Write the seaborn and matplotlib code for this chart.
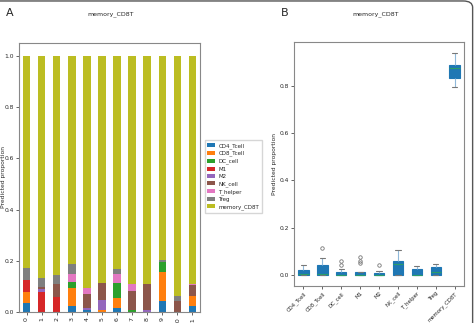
import matplotlib
matplotlib.use("Agg")
import matplotlib.pyplot as plt
from matplotlib.patches import FancyBboxPatch
import seaborn as sns
import pandas as pd

# sample ids on the x axis of panel A
samples = [str(i) for i in range(12)]
cell_types = ["CD4_Tcell", "CD8_Tcell", "DC_cell", "M1", "M2",
              "NK_cell", "T_helper", "Treg", "memory_CD8T"]

# predicted proportions per sample
cd4_tcell = [0.035, 0.0, 0.0, 0.022, 0.006, 0.0, 0.016, 0.0, 0.0, 0.042, 0.0, 0.022]
cd8_tcell = [0.043, 0.0, 0.0, 0.072, 0.0, 0.008, 0.039, 0.0, 0.0, 0.115, 0.0, 0.040]
dc_cell = [0.0, 0.0, 0.0, 0.024, 0.0, 0.0, 0.057, 0.008, 0.0, 0.040, 0.0, 0.0]
m1 = [0.048, 0.077, 0.058, 0.0, 0.0, 0.0, 0.0, 0.0, 0.0, 0.0, 0.0, 0.0]
m2 = [0.0, 0.014, 0.0, 0.0, 0.009, 0.040, 0.0, 0.0, 0.008, 0.0, 0.0, 0.0]
nk_cell = [0.0, 0.006, 0.053, 0.0, 0.054, 0.065, 0.0, 0.074, 0.103, 0.0, 0.044, 0.043]
t_helper = [0.0, 0.0, 0.0, 0.030, 0.025, 0.0, 0.037, 0.026, 0.0, 0.0, 0.0, 0.005]
treg = [0.046, 0.035, 0.033, 0.039, 0.0, 0.0, 0.018, 0.0, 0.0, 0.007, 0.017, 0.0]
memory_cd8t = [0.828, 0.868, 0.856, 0.813, 0.906, 0.887, 0.833, 0.892, 0.889, 0.796, 0.939, 0.890]

df = pd.DataFrame({
    "CD4_Tcell": cd4_tcell, "CD8_Tcell": cd8_tcell, "DC_cell": dc_cell,
    "M1": m1, "M2": m2, "NK_cell": nk_cell, "T_helper": t_helper,
    "Treg": treg, "memory_CD8T": memory_cd8t,
}, index=samples)

sns.set_style("ticks")
plt.rcParams["font.family"] = ["DejaVu Sans"]
palette = sns.color_palette("tab10", len(cell_types))

fig = plt.figure(figsize=(4.75, 3.23), dpi=100)
ax1 = fig.add_axes([0.040, 0.034, 0.381, 0.833])
ax2 = fig.add_axes([0.619, 0.115, 0.358, 0.755])

# Panel A: stacked proportions per sample
bottom = [0.0] * len(samples)
for ct, col in zip(cell_types, palette):
    ax1.bar(range(len(samples)), df[ct], width=0.5, bottom=bottom,
            color=col, label=ct, linewidth=0)
    bottom = [b + v for b, v in zip(bottom, df[ct])]
ax1.set_xlim(-0.5, len(samples) - 0.5)
ax1.set_ylim(0, 1.05)
ax1.set_xticks(range(len(samples)))
ax1.set_xticklabels(samples, rotation=90, fontsize=4.5)
ax1.set_yticks([0.0, 0.2, 0.4, 0.6, 0.8, 1.0])
ax1.tick_params(axis="y", labelsize=4.3, length=2, width=0.5, pad=1.5)
ax1.tick_params(axis="x", length=2, width=0.5, pad=1.5)
ax1.set_ylabel("Predicted proportion", fontsize=4.3)
ax1.yaxis.set_label_coords(-0.072, 0.5)
ax1.legend(loc="upper left", bbox_to_anchor=(0.425, 0.575),
           bbox_transform=fig.transFigure, fontsize=4.0, frameon=True,
           handlelength=1.4, handleheight=0.7, labelspacing=0.4,
           borderpad=0.5, handletextpad=0.6, fancybox=False,
           edgecolor="#cccccc")

# Panel B: distribution of each cell type over samples
long_df = df.melt(var_name="cell", value_name="proportion")
sns.boxplot(data=long_df, x="cell", y="proportion", order=cell_types, ax=ax2,
            width=0.55, color="#1f77b4", saturation=1, linewidth=0.8,
            boxprops=dict(facecolor="#1f77b4", edgecolor="#1f77b4"),
            whiskerprops=dict(color="#8fb8da"),
            capprops=dict(color="#777777"),
            medianprops=dict(color="#2a9d6a"),
            flierprops=dict(marker="o", markersize=2.5, markerfacecolor="none",
                            markeredgecolor="#777777", markeredgewidth=0.6))
ax2.set_xlabel("")
ax2.set_ylabel("Predicted proportion", fontsize=4.3, labelpad=2)
ax2.set_yticks([0.0, 0.2, 0.4, 0.6, 0.8])
ax2.tick_params(axis="y", labelsize=4.3, length=2, width=0.5, pad=1.5)
ax2.tick_params(axis="x", labelsize=3.9, length=2, width=0.5, pad=1.5)
for lab in ax2.get_xticklabels():
    lab.set_rotation(45)
    lab.set_ha("right")
    lab.set_rotation_mode("anchor")

for ax in (ax1, ax2):
    for sp in ax.spines.values():
        sp.set_color("#888888")
        sp.set_linewidth(0.8)

fig.text(0.232, 0.955, "memory_CD8T", ha="center", va="center", fontsize=4.5)
fig.text(0.79, 0.955, "memory_CD8T", ha="center", va="center", fontsize=4.5)
fig.text(0.012, 0.96, "A", ha="left", va="center", fontsize=8)
fig.text(0.592, 0.96, "B", ha="left", va="center", fontsize=8)

# rounded frame around the whole figure
frame = FancyBboxPatch((-0.03, -0.06), 1.025, 1.057,
                       boxstyle="round,pad=0,rounding_size=0.02",
                       transform=fig.transFigure, facecolor="none",
                       edgecolor="#555555", linewidth=1.0, clip_on=False)
fig.patches.append(frame)

fig.savefig("out.png", dpi=100)
